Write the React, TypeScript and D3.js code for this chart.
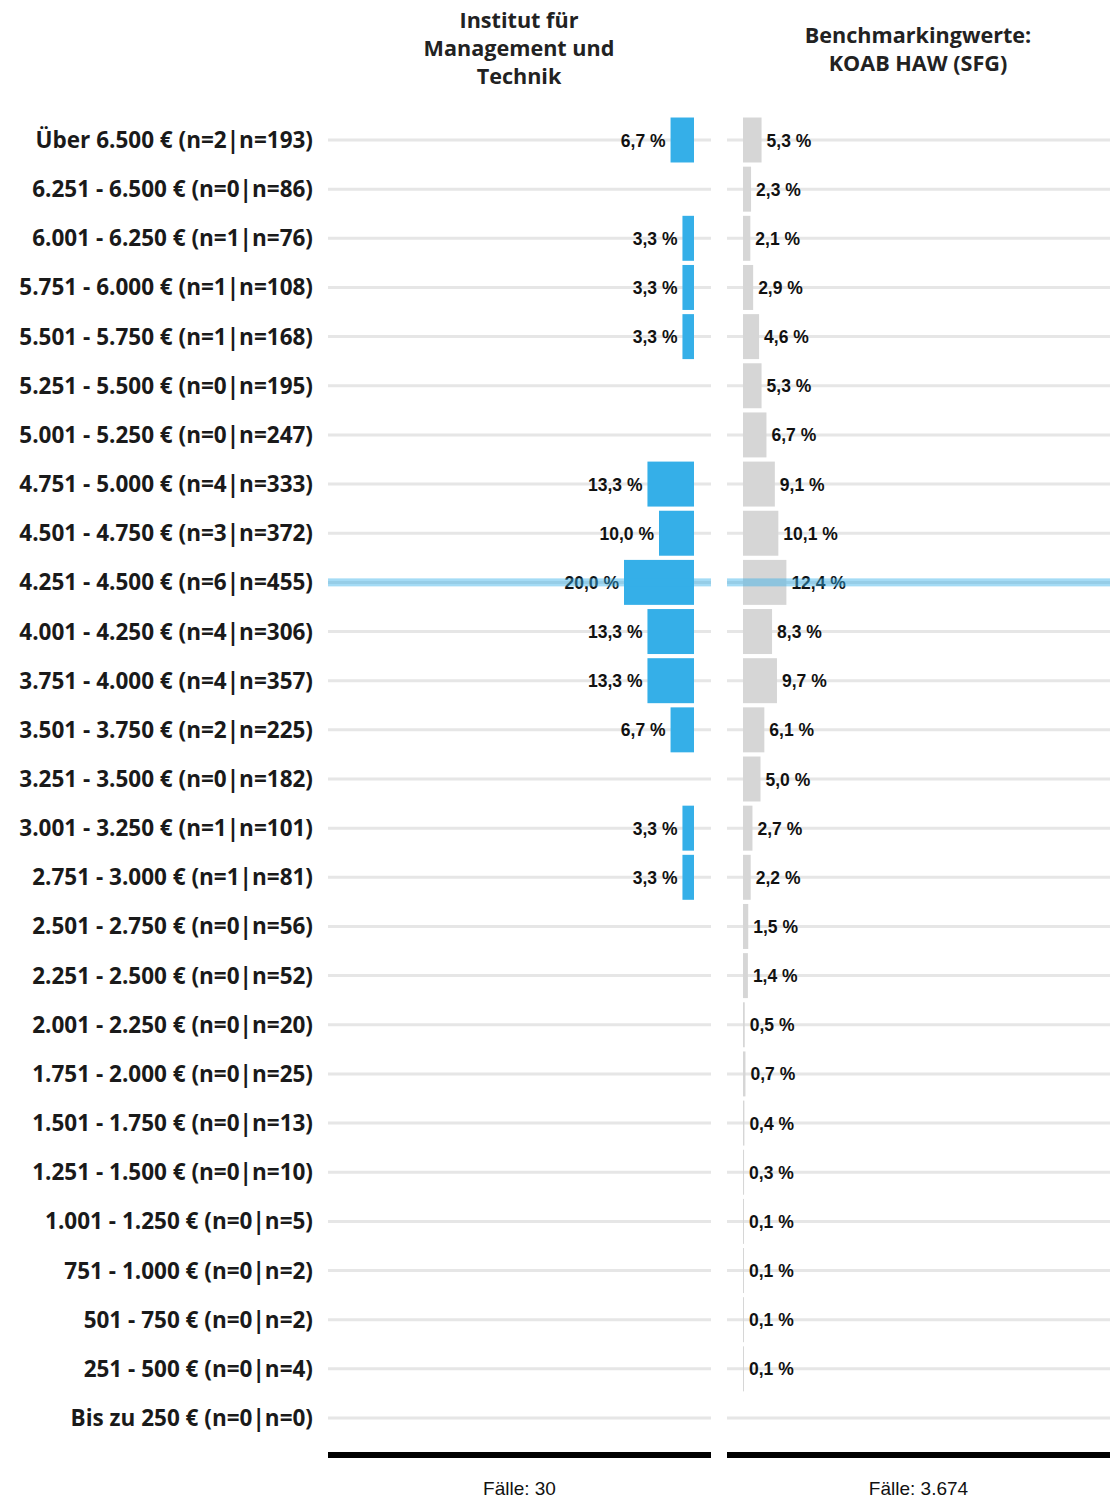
import { useEffect, useRef } from "react";
import { select, scaleBand, scaleLinear } from "d3";
////
/////
const ranges = [
  "Über 6.500 €",
  "6.251 - 6.500 €",
  "6.001 - 6.250 €",
  "5.751 - 6.000 €",
  "5.501 - 5.750 €",
  "5.251 - 5.500 €",
  "5.001 - 5.250 €",
  "4.751 - 5.000 €",
  "4.501 - 4.750 €",
  "4.251 - 4.500 €",
  "4.001 - 4.250 €",
  "3.751 - 4.000 €",
  "3.501 - 3.750 €",
  "3.251 - 3.500 €",
  "3.001 - 3.250 €",
  "2.751 - 3.000 €",
  "2.501 - 2.750 €",
  "2.251 - 2.500 €",
  "2.001 - 2.250 €",
  "1.751 - 2.000 €",
  "1.501 - 1.750 €",
  "1.251 - 1.500 €",
  "1.001 - 1.250 €",
  "751 - 1.000 €",
  "501 - 750 €",
  "251 - 500 €",
  "Bis zu 250 €",
];
// n per row: institute | benchmark
const nInstitut = [2, 0, 1, 1, 1, 0, 0, 4, 3, 6, 4, 4, 2, 0, 1, 1, 0, 0, 0, 0, 0, 0, 0, 0, 0, 0, 0];
const nBench = [193, 86, 76, 108, 168, 195, 247, 333, 372, 455, 306, 357, 225, 182, 101, 81, 56, 52, 20, 25, 13, 10, 5, 2, 2, 4, 0];
// percent values
const pctInstitut = [6.7, 0, 3.3, 3.3, 3.3, 0, 0, 13.3, 10.0, 20.0, 13.3, 13.3, 6.7, 0, 3.3, 3.3, 0, 0, 0, 0, 0, 0, 0, 0, 0, 0, 0];
const pctBench = [5.3, 2.3, 2.1, 2.9, 4.6, 5.3, 6.7, 9.1, 10.1, 12.4, 8.3, 9.7, 6.1, 5.0, 2.7, 2.2, 1.5, 1.4, 0.5, 0.7, 0.4, 0.3, 0.1, 0.1, 0.1, 0.1, 0];
const titleInstitut = ["Institut für", "Management und", "Technik"];
const titleBench = ["Benchmarkingwerte:", "KOAB HAW (SFG)"];
const casesInstitut = "Fälle: 30";
const casesBench = "Fälle: 3.674";
const highlightRow = "4.251 - 4.500 €";

////
/////
const W = 1118;
const H = 1499;
const BLUE = "#35AFE8";
const GREY = "#D6D6D6";
const GRID = "#E6E6E6";
const LABEL_FONT = "'Open Sans', Carlito, Calibri, sans-serif";
const VALUE_FONT = "'Liberation Sans', Arial, sans-serif";

const fmt = (v: number) => v.toFixed(1).replace(".", ",") + " %";

const App = () => {
  const root = useRef<SVGSVGElement | null>(null);

  useEffect(() => {
    if (!root.current) return;
    const svg = select(root.current);
    svg.selectAll("*").remove();
    //
    const rows = ranges.map((r, i) => ({
      key: r,
      label: `${r} (n=${nInstitut[i]}|n=${nBench[i]})`,
      a: pctInstitut[i],
      b: pctBench[i],
    }));
    //
    // scales
    const step = (1418 - 140) / (ranges.length - 1);
    const y = scaleBand<string>()
      .domain(ranges)
      .range([140 - step / 2, 1418 + step / 2])
      .paddingInner(0.085)
      .paddingOuter(0.0425);
    const w = scaleLinear().domain([0, 20]).range([0, 70]);
    //
    const leftPanel = { x0: 328, x1: 711, base: 694 };
    const rightPanel = { x0: 727, x1: 1110, base: 743 };
    const cy = (k: string) => (y(k) as number) + y.bandwidth() / 2;
    //
    // gridlines
    [leftPanel, rightPanel].forEach((p) => {
      svg
        .append("g")
        .selectAll("line")
        .data(rows)
        .enter()
        .append("line")
        .attr("x1", p.x0)
        .attr("x2", p.x1)
        .attr("y1", (d) => cy(d.key))
        .attr("y2", (d) => cy(d.key))
        .attr("stroke", GRID)
        .attr("stroke-width", 3);
    });
    //
    // left bars (grow to the left)
    svg
      .append("g")
      .selectAll("rect")
      .data(rows.filter((d) => d.a > 0))
      .enter()
      .append("rect")
      .attr("x", (d) => leftPanel.base - w(d.a))
      .attr("y", (d) => y(d.key) as number)
      .attr("width", (d) => w(d.a))
      .attr("height", y.bandwidth())
      .attr("fill", BLUE);
    svg
      .append("g")
      .selectAll("text")
      .data(rows.filter((d) => d.a > 0))
      .enter()
      .append("text")
      .attr("x", (d) => leftPanel.base - w(d.a) - 5)
      .attr("y", (d) => cy(d.key) + 6.5)
      .attr("text-anchor", "end")
      .attr("font-family", VALUE_FONT)
      .attr("font-weight", "bold")
      .attr("font-size", 17.5)
      .attr("fill", "#111")
      .text((d) => fmt(d.a));
    //
    // right bars
    svg
      .append("g")
      .selectAll("rect")
      .data(rows.filter((d) => d.b > 0))
      .enter()
      .append("rect")
      .attr("x", rightPanel.base)
      .attr("y", (d) => y(d.key) as number)
      .attr("width", (d) => Math.max(w(d.b), 1))
      .attr("height", y.bandwidth())
      .attr("fill", GREY);
    svg
      .append("g")
      .selectAll("text")
      .data(rows.filter((d) => d.b > 0))
      .enter()
      .append("text")
      .attr("x", (d) => rightPanel.base + Math.max(w(d.b), 1) + 5)
      .attr("y", (d) => cy(d.key) + 6.5)
      .attr("font-family", VALUE_FONT)
      .attr("font-weight", "bold")
      .attr("font-size", 17.5)
      .attr("fill", "#111")
      .text((d) => fmt(d.b));
    //
    // highlighted row
    [leftPanel, rightPanel].forEach((p) => {
      svg
        .append("rect")
        .attr("x", p.x0)
        .attr("y", cy(highlightRow) - 4)
        .attr("width", p.x1 - p.x0)
        .attr("height", 8)
        .attr("fill", BLUE)
        .attr("fill-opacity", 0.45);
    });
    //
    // row labels
    svg
      .append("g")
      .selectAll("text")
      .data(rows)
      .enter()
      .append("text")
      .attr("x", 313)
      .attr("y", (d) => cy(d.key) + 8)
      .attr("text-anchor", "end")
      .attr("font-family", LABEL_FONT)
      .attr("font-weight", "bold")
      .attr("font-size", 22.5)
      .attr("fill", "#1a1a1a")
      .text((d) => d.label);
    //
    // baseline + footers
    [
      { p: leftPanel, t: casesInstitut },
      { p: rightPanel, t: casesBench },
    ].forEach(({ p, t }) => {
      svg
        .append("rect")
        .attr("x", p.x0)
        .attr("y", 1452)
        .attr("width", p.x1 - p.x0)
        .attr("height", 6)
        .attr("fill", "#000");
      svg
        .append("text")
        .attr("x", (p.x0 + p.x1) / 2)
        .attr("y", 1495)
        .attr("text-anchor", "middle")
        .attr("font-family", VALUE_FONT)
        .attr("font-size", 19)
        .attr("fill", "#111")
        .text(t);
    });
    //
    // titles
    [
      { lines: titleInstitut, x: 519, y0: 28 },
      { lines: titleBench, x: 918, y0: 43 },
    ].forEach(({ lines, x, y0 }) => {
      svg
        .append("text")
        .attr("text-anchor", "middle")
        .attr("font-family", LABEL_FONT)
        .attr("font-weight", "bold")
        .attr("font-size", 21.6)
        .attr("fill", "#222")
        .selectAll("tspan")
        .data(lines)
        .enter()
        .append("tspan")
        .attr("x", x)
        .attr("y", (_d, i) => y0 + i * 28)
        .text((d) => d);
    });
  }, []);

  return (
    <svg
      ref={root}
      width={W}
      height={H}
      style={{ position: "absolute", left: 0, top: 0, background: "#fff" }}
    />
  );
};

export default App;
